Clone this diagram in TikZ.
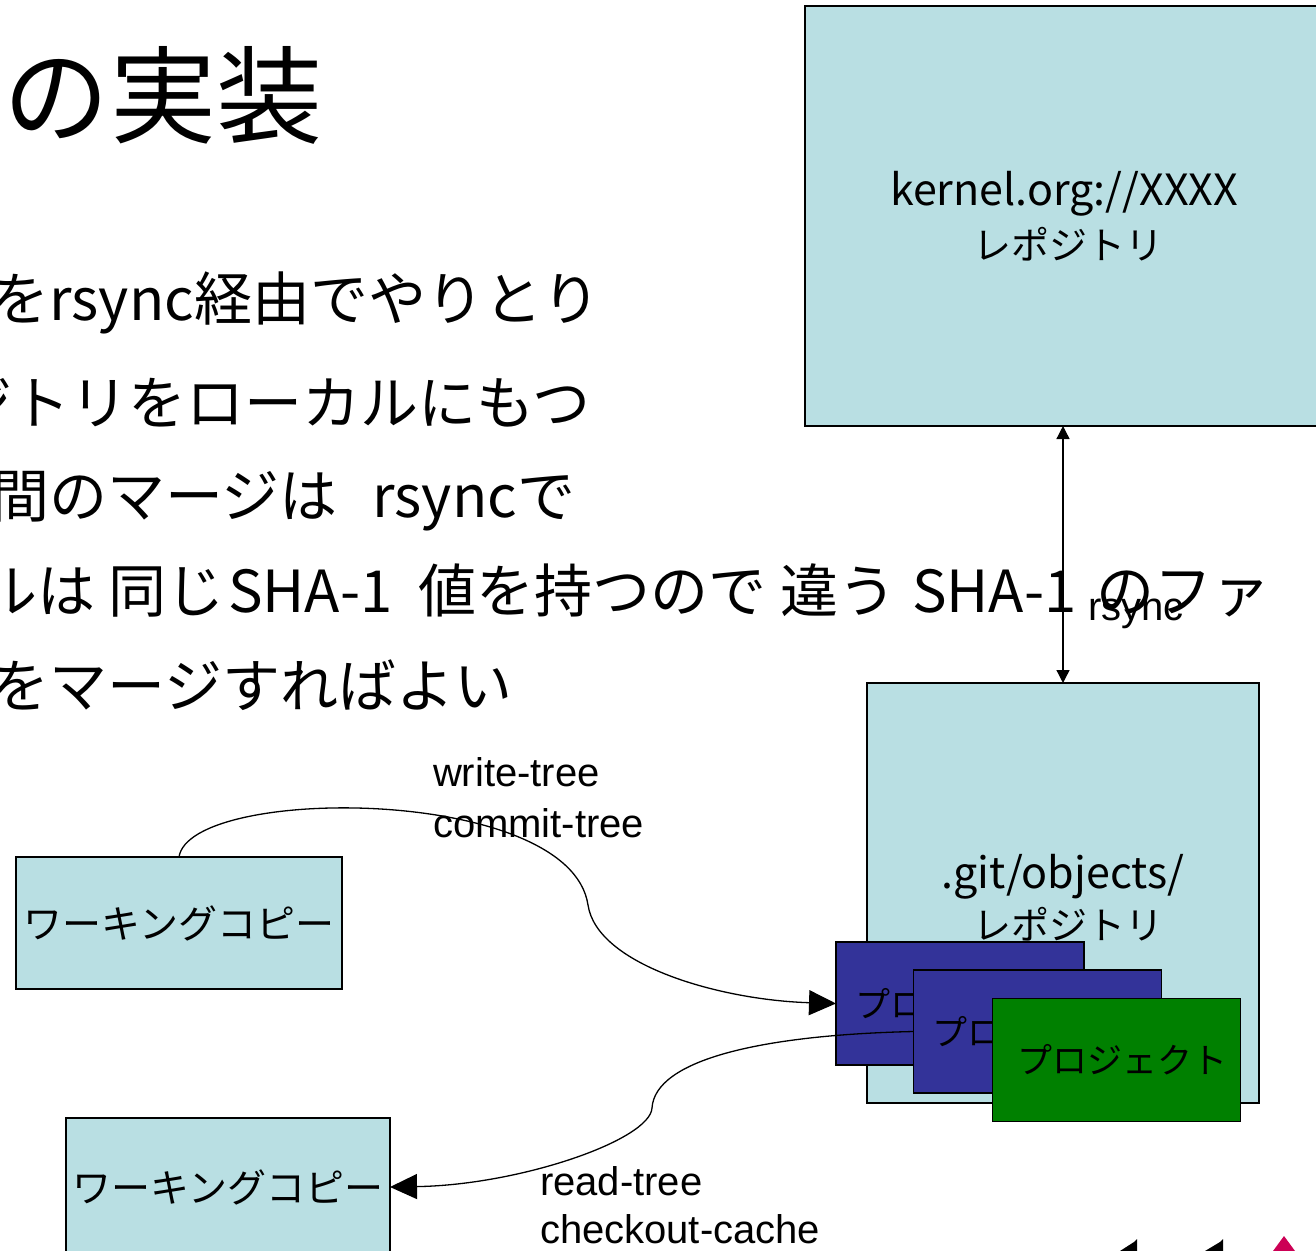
\documentclass[tikz,border=0pt]{standalone}
\usepackage{fontspec}
\setmainfont{Noto Sans CJK JP}
\newfontfamily\labfont{Liberation Sans}
\usetikzlibrary{arrows.meta}
\definecolor{boxblue}{RGB}{185,223,227}
\definecolor{projblue}{RGB}{51,51,153}
\definecolor{projgreen}{RGB}{0,128,0}
\definecolor{logored}{RGB}{204,0,85}
\pgfdeclarelayer{bgl}
\pgfdeclarelayer{lowA}
\pgfdeclarelayer{lowB}
\pgfsetlayers{bgl,lowA,lowB,main}
\begin{document}
\begin{tikzpicture}[x=1pt,y=-1pt,
  every node/.style={inner sep=0pt, outer sep=0pt},
  bluebox/.style={draw=black, line width=1.5pt, fill=boxblue},
  projbox/.style={draw=black, line width=1.5pt, minimum width=248pt, minimum height=123pt, font=\fontsize{35}{40}\selectfont},
  body/.style={font=\fontsize{58}{64}\selectfont},
  boxlatin/.style={font=\fontsize{43}{48}\selectfont},
  boxkana/.style={font=\fontsize{38}{42}\selectfont},
  wctext/.style={font=\fontsize{39}{44}\selectfont},
  cmdlabel/.style={anchor=base west, font=\labfont\fontsize{40}{44}\selectfont},
  conn/.style={draw=black, line width=1.3pt},
  bigtip/.style={-{Triangle[length=27pt,width=25pt]}}
]
\path[use as bounding box] (0,0) rectangle (1316,1250);
\begin{pgfonlayer}{bgl}
\fill[white] (0,0) rectangle (1316,1250);
\end{pgfonlayer}
\clip (0,0) rectangle (1316,1250);

% title and body text
\node[anchor=base east, font=\fontsize{106}{112}\selectfont] (title) at (322,135) {の実装};
\node[body, anchor=base east] (line1) at (600,320) {をrsync経由でやりとり};
\node[body, anchor=base east] (line2) at (590,424) {ジトリをローカルにもつ};
\node[body, anchor=base west] (line3a) at (-9,517) {間のマージは};
\node[body, anchor=base east] (line3b) at (575,517) {rsyncで};
\node[body, anchor=base west] (line4a) at (-20,612) {ルは};
\node[body, anchor=base west] (line4b) at (108,612) {同じ};
\node[body, anchor=base west] (line4c) at (228,612) {SHA-1};
\node[body, anchor=base west] (line4d) at (418,612) {値を持つので};
\node[body, anchor=base west] (line4e) at (780,612) {違う};
\node[body, anchor=base west] (line4f) at (912,612) {SHA-1};
\node[body, anchor=base east] (line4g) at (1270,612) {のファ};
\node[body, anchor=base east] (line5) at (512,707) {をマージすればよい};

% remote repository
\node[bluebox, minimum width=525pt, minimum height=420pt] (kbox) at (1067.5,216) {};
\node[boxlatin, anchor=base] (ktext) at (1064,205) {kernel.org://XXXX};
\node[boxkana, anchor=base] (kkana) at (1068,259) {レポジトリ};

% local repository and projects
\begin{pgfonlayer}{lowA}
\node[bluebox, minimum width=392pt, minimum height=420pt] (repo) at (1063,893) {};
\node[boxlatin, anchor=base] (rtext) at (1063,888) {.git/objects/};
\node[boxkana, anchor=base] (rkana) at (1068,939) {レポジトリ};
\node[projbox, fill=projblue] (p1) at (960,1003.5) {プロジェクト};
\end{pgfonlayer}
\node[projbox, fill=projblue] (p2) at (1037.5,1031.5) {プロジェクト};
\node[projbox, fill=projgreen] (p3) at (1116.5,1060) {\hspace*{12pt}プロジェクト};

% working copies
\node[bluebox, wctext, minimum width=326pt, minimum height=132pt] (wc1) at (179,923) {ワーキングコピー};
\node[bluebox, wctext, minimum width=324pt, minimum height=138pt] (wc2) at (228,1187) {ワーキングコピー};

% rsync connector
\draw[conn, {Triangle[length=13pt,width=13pt]}-{Triangle[length=13pt,width=13pt]}] (repo.north |- kbox.south) -- (repo.north);
\node[anchor=base west, font=\labfont\fontsize{40}{44}\selectfont] (rsynclab) at (1088,620) {rsync};

% write-tree / commit-tree
\draw[conn, bigtip] (wc1.north) .. controls (190,785) and (570,785) .. (588,905)
   .. controls (597,965) and (720,1000) .. (p1.west);
\node[cmdlabel] (wt) at (433,786) {write-tree};
\node[cmdlabel] (ct) at (433,837) {commit-tree};

% read-tree / checkout-cache
\begin{pgfonlayer}{lowB}
\draw[conn, bigtip] (p2.west) .. controls (760,1035) and (655,1060) .. (652,1108)
   .. controls (650,1140) and (520,1185) .. (wc2.east);
\end{pgfonlayer}
\node[cmdlabel] (rt) at (540,1195) {read-tree};
\node[cmdlabel] (cc) at (540,1243) {checkout-cache};

% partial logo at bottom right
\fill[black] (1120,1251) -- (1134,1242) -- (1137,1239) -- (1137,1251) -- cycle;
\fill[black] (1205,1251) -- (1220,1242) -- (1223,1239) -- (1223,1251) -- cycle;
\fill[logored] (1273,1251) -- (1284,1236) -- (1295,1251) -- cycle;
\end{tikzpicture}
\end{document}
